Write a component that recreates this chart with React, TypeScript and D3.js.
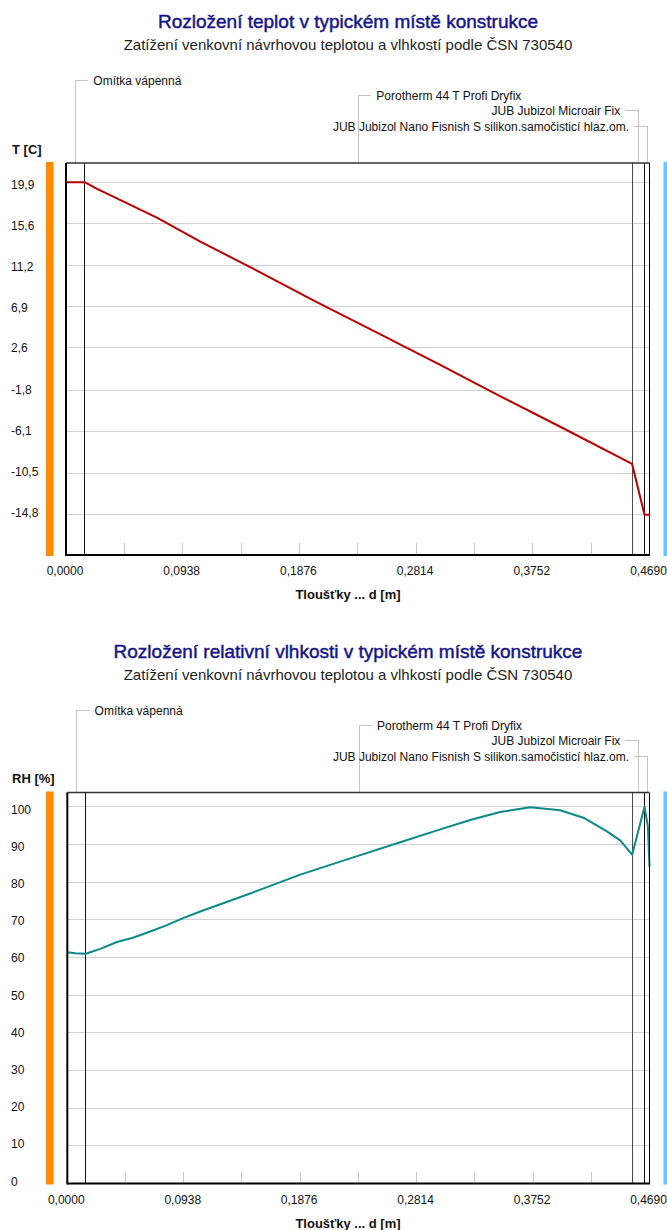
import React from 'react';
import * as d3 from 'd3';

// Construction layers (interior -> exterior) and their thickness in metres
const LAYER_NAMES = [
  'Omítka vápenná',
  'Porotherm 44 T Profi Dryfix',
  'JUB Jubizol Microair Fix',
  'JUB Jubizol Nano Fisnish S silikon.samočisticí hlaz.om.',
];
const LAYER_THICKNESS = [0.015, 0.44, 0.01, 0.004];

// Thickness axis
const X_LABEL_TICKS = [0, 0.0938, 0.1876, 0.2814, 0.3752, 0.469];
const X_MINOR_TICKS = [0.0469, 0.0938, 0.1407, 0.1876, 0.2345, 0.2814, 0.3283, 0.3752, 0.4221];

// Temperature profile
const TEMP_TICKS = [19.9, 15.6, 11.2, 6.9, 2.6, -1.8, -6.1, -10.5, -14.8];
const TEMP_DOMAIN = [-19.0, 21.9];
const TEMP_DEPTH = [0, 0.015, 0.025, 0.038, 0.073, 0.108, 0.15, 0.2, 0.25, 0.3, 0.35, 0.4, 0.455, 0.465, 0.469];
const TEMP_VALUES = [19.9, 19.9, 19.2, 18.4, 16.2, 13.7, 10.9, 7.5, 4.2, 0.9, -2.5, -5.8, -9.5, -14.8, -14.8];

// Relative humidity profile
const RH_TICKS = [0, 10, 20, 30, 40, 50, 60, 70, 80, 90, 100];
const RH_DOMAIN = [0, 103.8];
const RH_DEPTH = [
  0, 0.0064, 0.015, 0.0266, 0.04, 0.0534, 0.0668, 0.0803, 0.0937, 0.1071, 0.1474, 0.1877, 0.2279,
  0.2682, 0.3004, 0.3246, 0.3487, 0.3729, 0.397, 0.4158, 0.4347, 0.4454, 0.455, 0.465, 0.4677, 0.469,
];
const RH_VALUES = [
  61.4, 61.1, 61.0, 62.3, 64.1, 65.3, 66.9, 68.6, 70.5, 72.2, 77.0, 82.0, 86.3,
  90.6, 94.0, 96.5, 98.6, 99.9, 99.1, 97.1, 93.5, 91.1, 87.3, 100.0, 94.8, 84.0,
];

const SUBTITLE = 'Zatížení venkovní návrhovou teplotou a vlhkostí podle ČSN 730540';

const cz = d3.formatLocale({
  decimal: ',',
  thousands: ' ',
  grouping: [3],
  currency: ['', ''],
  minus: '-',
});

const FONT = "'Liberation Sans', Arial, sans-serif";

type ChartProps = {
  offsetY: number;
  x0: number;
  x1: number;
  plotTop: number;
  plotBottom: number;
  domain: number[];
  ticks: number[];
  tickFormat: (v: number) => string;
  yTitle: string;
  title: string;
  depth: number[];
  values: number[];
  color: string;
};

function ProfileChart(p: ChartProps) {
  const total = d3.sum(LAYER_THICKNESS);
  const x = d3.scaleLinear().domain([0, total]).range([p.x0, p.x1]);
  const y = d3.scaleLinear().domain(p.domain).range([p.plotBottom, p.plotTop]);
  const tMin = d3.min(p.ticks) as number;
  const tMax = d3.max(p.ticks) as number;
  const labelY = d3.scaleLinear().domain([tMin, tMax]).range([y(tMin) + 2, y(tMax) + 7]);

  const bounds = d3.cumsum(LAYER_THICKNESS);
  const starts = [0, ...Array.from(bounds).slice(0, -1)];
  const line = d3
    .line<number>()
    .x((_, i) => x(p.depth[i]))
    .y((v) => y(v));

  const xfmt = cz.format('.4f');
  const midTitle = 348;

  return (
    <g transform={`translate(0,${p.offsetY})`} fontFamily={FONT}>
      <text
        x={midTitle}
        y={28}
        textAnchor="middle"
        fontSize={19}
        fill="#14148c"
        stroke="#14148c"
        strokeWidth={0.45}
      >
        {p.title}
      </text>
      <text x={midTitle} y={50} textAnchor="middle" fontSize={15} fill="#1e1e1e">
        {SUBTITLE}
      </text>

      {/* layer captions with leader lines */}
      {LAYER_NAMES.map((name, i) => {
        const mid = x(starts[i] + LAYER_THICKNESS[i] / 2);
        const ly = 80 + i * 15.4;
        const leftSide = (mid - p.x0) / (p.x1 - p.x0) > 0.9;
        return (
          <g key={name}>
            <path
              d={`M${mid},${p.plotTop} V${ly} H${leftSide ? mid - 13 : mid + 13}`}
              fill="none"
              stroke="#c4c4c4"
              strokeWidth={1}
              shapeRendering="crispEdges"
            />
            <text
              x={leftSide ? mid - 18 : mid + 18}
              y={ly + 4.5}
              fontSize={12}
              textAnchor={leftSide ? 'end' : 'start'}
              fill="#111"
            >
              {name}
            </text>
          </g>
        );
      })}

      <text x={12} y={p.plotTop - 9.5} fontSize={13} fontWeight="bold" fill="#111">
        {p.yTitle}
      </text>

      {/* interior / exterior side markers */}
      <rect x={46} y={p.plotTop - 1} width={7.5} height={p.plotBottom - p.plotTop + 2} fill="#ff8a00" />
      <rect x={663.5} y={p.plotTop - 1} width={10} height={p.plotBottom - p.plotTop + 2} fill="#66c6ff" />

      {/* horizontal grid */}
      {p.ticks.map((t) => (
        <line
          key={`g${t}`}
          x1={p.x0}
          x2={p.x1}
          y1={y(t)}
          y2={y(t)}
          stroke="#d2d2d2"
          strokeWidth={1}
          shapeRendering="crispEdges"
        />
      ))}
      {p.ticks.map((t) => (
        <text key={`l${t}`} x={11} y={labelY(t)} fontSize={12} fill="#111">
          {p.tickFormat(t)}
        </text>
      ))}

      {/* thickness axis ticks */}
      {X_MINOR_TICKS.map((d) => (
        <line
          key={`m${d}`}
          x1={x(d)}
          x2={x(d)}
          y1={p.plotBottom - 12}
          y2={p.plotBottom}
          stroke="#c8c8c8"
          strokeWidth={1}
          shapeRendering="crispEdges"
        />
      ))}
      {X_LABEL_TICKS.map((d) => (
        <text key={`x${d}`} x={x(d) - 1} y={p.plotBottom + 20} fontSize={12} textAnchor="middle" fill="#111">
          {xfmt(d)}
        </text>
      ))}
      <text x={348} y={p.plotBottom + 44} fontSize={13} fontWeight="bold" textAnchor="middle" fill="#111">
        Tloušťky ... d [m]
      </text>

      {/* layer boundaries */}
      {Array.from(bounds)
        .slice(0, -1)
        .map((b, i) => (
          <line
            key={`b${i}`}
            x1={x(b)}
            x2={x(b)}
            y1={p.plotTop}
            y2={p.plotBottom}
            stroke={i === 1 ? '#4a4a4a' : '#111'}
            strokeWidth={1}
            shapeRendering="crispEdges"
          />
        ))}

      <path d={line(p.values) || ''} fill="none" stroke={p.color} strokeWidth={2} strokeLinejoin="round" />

      {/* frame */}
      <line x1={p.x0} x2={p.x1} y1={p.plotTop} y2={p.plotTop} stroke="#333" strokeWidth={1.3} />
      <line x1={p.x1} x2={p.x1} y1={p.plotTop} y2={p.plotBottom} stroke="#000" strokeWidth={1} shapeRendering="crispEdges" />
      <line x1={p.x0} x2={p.x0} y1={p.plotTop} y2={p.plotBottom + 1} stroke="#000" strokeWidth={2} />
      <line x1={p.x0} x2={p.x1 + 0.5} y1={p.plotBottom} y2={p.plotBottom} stroke="#000" strokeWidth={2} />
    </g>
  );
}

export default function App() {
  const tfmt = cz.format('.1f');
  const rfmt = cz.format('d');
  return (
    <svg
      width={667}
      height={1230}
      viewBox="0 0 667 1230"
      style={{ position: 'absolute', left: 0, top: 0, display: 'block', background: '#fff' }}
    >
      <rect width={667} height={1230} fill="#fff" />
      <ProfileChart
        offsetY={0}
        x0={66}
        x1={649.5}
        plotTop={163}
        plotBottom={555}
        domain={TEMP_DOMAIN}
        ticks={TEMP_TICKS}
        tickFormat={(v) => tfmt(v)}
        yTitle="T [C]"
        title="Rozložení teplot v typickém místě konstrukce"
        depth={TEMP_DEPTH}
        values={TEMP_VALUES}
        color="#b80000"
      />
      <ProfileChart
        offsetY={630}
        x0={67.3}
        x1={649.5}
        plotTop={162.5}
        plotBottom={553.5}
        domain={RH_DOMAIN}
        ticks={RH_TICKS}
        tickFormat={(v) => rfmt(v)}
        yTitle="RH [%]"
        title="Rozložení relativní vlhkosti v typickém místě konstrukce"
        depth={RH_DEPTH}
        values={RH_VALUES}
        color="#0a8a8a"
      />
    </svg>
  );
}
